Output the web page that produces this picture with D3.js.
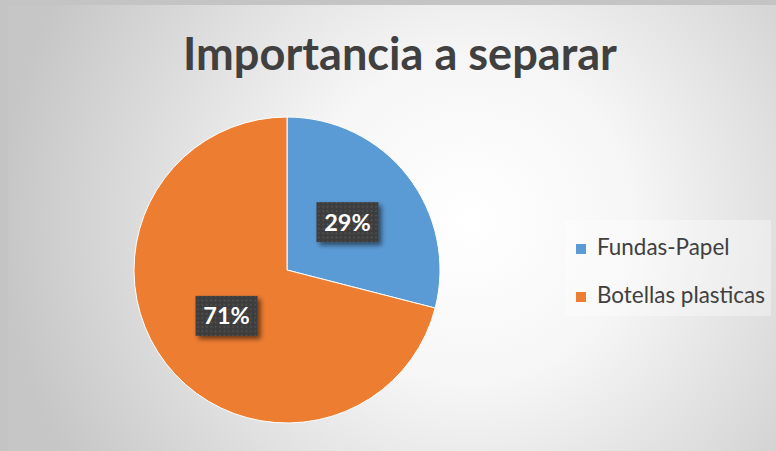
<!DOCTYPE html>
<html>
<head>
<meta charset="utf-8">
<script src="https://cdn.jsdelivr.net/npm/d3@7/dist/d3.min.js"></script>
<style>
  html, body { margin: 0; padding: 0; background: #c4c4c4; }
  svg { display: block; }
</style>
</head>
<body>
<svg id="chart" width="776" height="451"></svg>
<script>
// Chart data
const title = "Importancia a separar";
const categories = ["Fundas-Papel", "Botellas plasticas"];
const values = [29, 71];
const colors = ["#5B9BD5", "#ED7D31"];

const W = 776, H = 451;
const svg = d3.select("#chart");
const defs = svg.append("defs");

// Background: soft radial gradient inside the chart frame
const grad = defs.append("radialGradient")
  .attr("id", "bg").attr("gradientUnits", "userSpaceOnUse")
  .attr("cx", 470).attr("cy", 220).attr("r", 470);
grad.append("stop").attr("offset", "0%").attr("stop-color", "#ffffff");
grad.append("stop").attr("offset", "35%").attr("stop-color", "#f6f6f6");
grad.append("stop").attr("offset", "100%").attr("stop-color", "#c6c6c6");

// Dotted fill used behind the data labels
const pat = defs.append("pattern")
  .attr("id", "dots").attr("patternUnits", "userSpaceOnUse")
  .attr("width", 4.4).attr("height", 4.4);
pat.append("rect").attr("width", 4.4).attr("height", 4.4).attr("fill", "#3d3d3d");
pat.append("rect").attr("x", 1.4).attr("y", 1.4).attr("width", 1.6).attr("height", 1.6).attr("fill", "#565656");

const shadow = defs.append("filter").attr("id", "shadow")
  .attr("x", "-30%").attr("y", "-30%").attr("width", "170%").attr("height", "170%");
shadow.append("feDropShadow").attr("dx", 3).attr("dy", 3).attr("stdDeviation", 2.5)
  .attr("flood-color", "#000").attr("flood-opacity", 0.55);

svg.append("rect").attr("x", 8).attr("y", 5).attr("width", W - 8).attr("height", H - 5)
  .attr("fill", "url(#bg)");

// Title
const titleText = svg.append("text")
  .attr("x", 400).attr("y", 70)
  .attr("text-anchor", "middle")
  .attr("font-family", "Lato, 'Open Sans', sans-serif")
  .attr("font-weight", 700)
  .attr("font-size", 40)
  .attr("fill", "#404040")
  .text(title);
{
  const w = titleText.node().getComputedTextLength();
  titleText.attr("font-size", 40 * 434 / w);
}

// Pie
const cx = 287, cy = 270, R = 153;
const pie = d3.pie().sort(null).value(d => d)(values);
const arc = d3.arc().innerRadius(0).outerRadius(R);
const g = svg.append("g").attr("transform", `translate(${cx},${cy})`);

g.selectAll("path.slice").data(pie).join("path")
  .attr("class", "slice")
  .attr("d", arc)
  .attr("fill", (d, i) => colors[i])
  .attr("stroke", "#ffffff")
  .attr("stroke-width", 1);

// Data labels
const total = d3.sum(values);
const labels = g.selectAll("g.lbl").data(pie).join("g")
  .attr("class", "lbl")
  .attr("transform", d => {
    const c = arc.centroid(d);
    return `translate(${c[0]},${c[1] - 1})`;
  });
labels.append("rect")
  .attr("x", -31).attr("y", -20).attr("width", 62).attr("height", 40)
  .attr("fill", "url(#dots)")
  .attr("filter", "url(#shadow)");
labels.append("text")
  .attr("text-anchor", "middle")
  .attr("y", 8.5)
  .attr("font-family", "Lato, 'Open Sans', sans-serif")
  .attr("font-weight", 700)
  .attr("font-size", 23.5)
  .attr("fill", "#ffffff")
  .text(d => Math.round(d.value / total * 100) + "%");

// Legend
svg.append("rect").attr("x", 565).attr("y", 220).attr("width", 206).attr("height", 96)
  .attr("fill", "#ffffff").attr("fill-opacity", 0.35);
const leg = svg.selectAll("g.leg").data(categories).join("g")
  .attr("class", "leg")
  .attr("transform", (d, i) => `translate(576,${255 + i * 48})`);
leg.append("rect").attr("x", 0).attr("y", -11).attr("width", 10).attr("height", 10)
  .attr("fill", (d, i) => colors[i]);
const legText = leg.append("text")
  .attr("x", 21).attr("y", 0)
  .attr("font-family", "Lato, 'Open Sans', sans-serif")
  .attr("font-size", 20)
  .attr("fill", "#404040")
  .text(d => d);
{
  const w = legText.nodes()[1].getComputedTextLength();
  legText.attr("font-size", 20 * 168 / w);
}
</script>
</body>
</html>
